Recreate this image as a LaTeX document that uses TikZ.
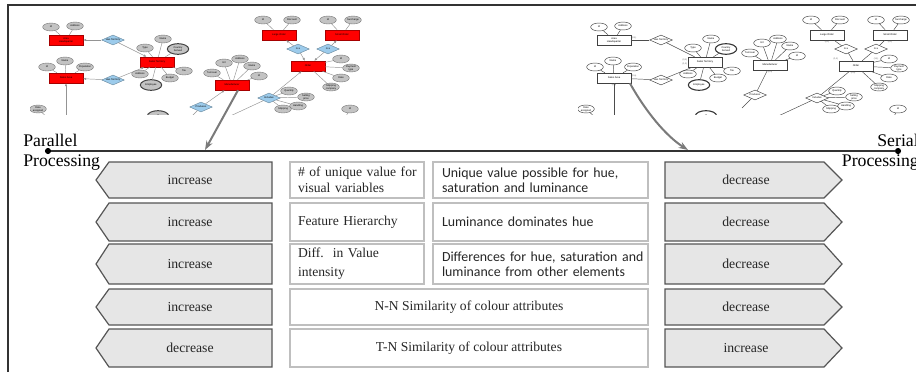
\documentclass[tikz,border=0pt]{standalone}
\usepackage{fontspec}
\setmainfont{Liberation Serif}
\newfontfamily\cellsans{Carlito}
\newfontfamily\thumbsans{Liberation Sans}
\usetikzlibrary{shapes.geometric,arrows.meta}

\definecolor{chevfill}{HTML}{E6E6E6}
\definecolor{chevline}{HTML}{555555}
\definecolor{cellline}{HTML}{BFBFBF}
\definecolor{axiscol}{HTML}{333333}
\definecolor{relblue}{HTML}{9CCBEB}
\definecolor{attgray}{HTML}{C3C3C3}
\definecolor{entred}{HTML}{FF0000}

% chevron pointing left (towards parallel processing)
\newcommand\leftchev[4]{%
  \draw[chev] (272,{#2-#3/2}) -- (109,{#2-#3/2}) -- (96,#2) -- (109,{#2+#3/2}) -- (272,{#2+#3/2}) -- cycle;
  \node[chevlabel] (#1) at (190,#2) {#4};
}
% chevron pointing right (towards serial processing)
\newcommand\rightchev[4]{%
  \draw[chev] (665,{#2-#3/2}) -- (824,{#2-#3/2}) -- (842,#2) -- (824,{#2+#3/2}) -- (665,{#2+#3/2}) -- cycle;
  \node[chevlabel] (#1) at (746,#2) {#4};
}

% small ER schema; #1,#2 shift of the manufacturer cluster, #3,#4 shift of "Produces"
\newcommand\erthumb[4]{%
  % entities
  \node[erent] (ahq) at (66,40) {Area\\Headquarter};
  \node[erent] (sa) at (66,78) {Sales Area};
  \node[erent] (st) at (157,62) {Sales Territory};
  \node[erent] (man) at ({232+#1},{85+#2}) {Manufacturer};
  \node[erent] (lo) at (279,35) {Large Order};
  \node[erent] (so) at (342,35) {Small Order};
  \node[erent] (ord) at (308,66) {Order};
  % relationships
  \node[errel] (hq) at (113,40) {Has Territory};
  \node[errel] (ha) at (113,80) {Has Territory};
  \node[errel] (pr) at ({201+#3},{107+#4}) {Produces};
  \node[errel] (isa1) at (298,49) {Is a};
  \node[errel] (isa2) at (328,49) {Is a};
  \node[errel] (inc) at (269,98) {Includes};
  % attributes
  \node[eratt] (ahqid) at (51,27) {Id};
  \node[eratt] (ahqad) at (75,26) {Address};
  \node[eratt] (said) at (47,67) {Id};
  \node[eratt] (sana) at (65,61) {Name};
  \node[eratt] (sapo) at (85,67) {Population};
  \node[eratt] (stna) at (163,39) {Name};
  \node[eratt] (stty) at (145,48) {Type};
  \node[ermatt] (stco) at (178,49) {Country\\Served};
  \node[eratt] (stta) at (184,71) {Tax};
  \node[eratt] (stbu) at (170,78) {Budget};
  \node[eratt] (stad) at (140,74) {Address};
  \node[ermatt] (stem) at (151,85) {Employee};
  \node[eratt] (mnid) at ({259+#1},{76+#2}) {Id};
  \node[eratt] (mnna) at ({252+#1},{66+#2}) {Name};
  \node[eratt] (mnad) at ({240+#1},{59+#2}) {Address};
  \node[eratt] (mnur) at ({224+#1},{63+#2}) {Url};
  \node[eratt] (mntu) at ({212+#1},{73+#2}) {Turnover};
  \node[eratt] (loid) at (263,20) {Id};
  \node[eratt] (lodi) at (292,20) {Discount};
  \node[eratt] (soid) at (328,20) {Id};
  \node[eratt] (sosu) at (353,20) {Surcharge};
  \node[eratt] (orid) at (341,59) {Id};
  \node[eratt] (orpa) at (351,68) {Payment\\type};
  \node[eratt] (orda) at (341,78) {Date};
  \node[eratt] (orsh) at (331,87) {Shipping\\company};
  \node[eratt] (inqu) at (289,91) {Quantity};
  \node[eratt] (insp) at (306,97) {Selling\\price};
  \node[eratt] (inha) at (298,106) {Handling};
  \node[eratt] (insh) at (283,109) {Shipping};
  \node[eratt] (dass) at (38,109) {Date\\assigned};
  \node[ermatt] (xid) at (158,116) {Id};
  \node[eratt] (yid) at (350,109) {Id};
  % free ends running out of the frame
  \coordinate (sadown) at (66,118);
  \coordinate (prdown) at ({188+#3},{120+#4});
  \coordinate (incdown) at (226,118);
  \coordinate (dadown) at (48,118);
  \coordinate (yidown) at (345,118);
  % relationship links
  \draw[erlink] (hq) -- (ahq);
  \draw[erlink] (hq) -- (st);
  \draw[erlink] (ha) -- (sa);
  \draw[erlink] (ha) -- (st);
  \draw[erlink] (pr) -- (man);
  \draw[erline] (pr) -- (prdown);
  \draw[erlink] (isa1) -- (lo);
  \draw[erlink] (isa1) -- (ord);
  \draw[erlink] (isa2) -- (so);
  \draw[erlink] (isa2) -- (ord);
  \draw[erlink] (inc) -- (ord);
  \draw[erline] (inc) -- (incdown);
  \draw[erlink] (sadown) -- (sa);
  % attribute links
  \foreach \a in {ahqid,ahqad} \draw[erline] (ahq) -- (\a);
  \foreach \a in {said,sana,sapo} \draw[erline] (sa) -- (\a);
  \foreach \a in {stna,stty,stco,stta,stbu,stad,stem} \draw[erline] (st) -- (\a);
  \foreach \a in {mnid,mnna,mnad,mnur,mntu} \draw[erline] (man) -- (\a);
  \draw[erline] (lo) -- (loid);
  \draw[erline] (lo) -- (lodi);
  \draw[erline] (so) -- (soid);
  \draw[erline] (so) -- (sosu);
  \foreach \a in {orid,orpa,orda,orsh} \draw[erline] (ord) -- (\a);
  \foreach \a in {inqu,insp,inha,insh} \draw[erline] (inc) -- (\a);
  \draw[erline] (dass) -- (dadown);
  \draw[erline] (yid) -- (yidown);
}

\tikzset{
  thumbfont/.style={font=\thumbsans\fontsize{1.9}{2.1}\selectfont},
  frameline/.style={draw=axiscol, line width=1.1pt},
  axisline/.style={draw=axiscol, line width=1.1pt},
  axisdot/.style={circle, fill=black, inner sep=0pt, minimum size=4.6pt},
  endlabel/.style={inner sep=0pt, font=\fontsize{13.3}{15}\selectfont},
  chev/.style={fill=chevfill, draw=chevline, line width=0.9pt},
  chevlabel/.style={inner sep=0pt, text=black!85, font=\fontsize{10.3}{12}\selectfont},
  cellA/.style={draw=cellline, line width=1.1pt, minimum width=100.5pt, text width=88.5pt,
    align=left, inner xsep=6pt, inner ysep=0pt, text=black!85, font=\fontsize{10.2}{11.6}\selectfont},
  cellB/.style={draw=cellline, line width=1.1pt, minimum width=161.25pt, text width=147.75pt,
    align=left, inner xsep=6.75pt, inner ysep=0pt, text=black!85, font=\cellsans\fontsize{10.4}{11.5}\selectfont},
  cellwide/.style={draw=cellline, line width=1.1pt, minimum width=268.5pt, align=center,
    inner sep=0pt, text=black!85, font=\fontsize{10.2}{12}\selectfont},
  bigarrow/.style={draw=black!52, line width=1.5pt, -{Stealth[length=7pt,width=5pt]}},
  card/.style={inner sep=0.3pt, text=black!70, font=\thumbsans\fontsize{1.6}{1.8}\selectfont},
}

\begin{document}
\begin{tikzpicture}[x=0.75pt,y=-0.75pt]
\useasboundingbox (0,0) rectangle (916,372);
\clip (0,0) rectangle (916,372);

% outer frame
\draw[frameline] (8,372) -- (8,5) -- (920,5);

% coloured ER schema
\begin{scope}[name prefix=L-,
  erent/.style={rectangle, fill=entred, draw=entred!65!black, line width=0.3pt, minimum width=25.5pt,
    minimum height=7.5pt, inner sep=0pt, align=center, thumbfont},
  errel/.style={diamond, aspect=2.3, fill=relblue, draw=relblue!65!black, line width=0.3pt,
    minimum width=17pt, minimum height=7.5pt, inner sep=0pt, thumbfont},
  eratt/.style={ellipse, fill=attgray, draw=black!55, line width=0.3pt, minimum width=12.5pt,
    minimum height=6pt, inner sep=0pt, align=center, thumbfont},
  ermatt/.style={eratt, draw=black!75, line width=0.75pt, minimum width=16pt, minimum height=8pt},
  erline/.style={draw=black!42, line width=0.35pt},
  erlink/.style={erline, -{Latex[length=2.2pt,width=1.8pt]}}]
  \clip (30,8) rectangle (376,114);
  \erthumb{0}{0}{0}{0}
\end{scope}

% black and white ER schema
\begin{scope}[shift={(548,0)}, name prefix=R-,
  erent/.style={rectangle, fill=white, draw=black!75, line width=0.35pt, minimum width=25.5pt,
    minimum height=7.5pt, inner sep=0pt, align=center, thumbfont},
  errel/.style={diamond, aspect=2.3, fill=white, draw=black!75, line width=0.35pt,
    minimum width=17pt, minimum height=7.5pt, inner sep=0pt, thumbfont},
  eratt/.style={ellipse, fill=white, draw=black!75, line width=0.35pt, minimum width=12.5pt,
    minimum height=6pt, inner sep=0pt, align=center, thumbfont},
  ermatt/.style={eratt, draw=black!80, line width=0.8pt, minimum width=16pt, minimum height=8pt},
  erline/.style={draw=black!70, line width=0.35pt},
  erlink/.style={erline}]
  \clip (30,8) rectangle (368,114);
  \erthumb{-10}{-20}{6}{-12}
  \node[card, above right] (c1) at (R-ahq.east) {(0,1)};
  \node[card, above right] (c2) at (R-sa.east) {(0,n)};
  \node[card, above left] (c3) at (R-st.west) {(0,1)};
  \node[card, below left] (c4) at (R-st.west) {(1,1)};
  \node[card, below] (c5) at (R-lo.south) {(0,1)};
  \node[card, below] (c6) at (R-so.south) {(0,1)};
  \node[card, above left] (c7) at (R-ord.north west) {(1,1)};
  \node[card, above right] (c8) at (R-ord.north east) {(1,1)};
  \node[card, below] (c9) at (R-sa.south) {(0,n)};
  \node[card, below] (c10) at (R-man.south) {(0,n)};
  \node[card, below left] (c11) at (R-ord.south) {(0,n)};
\end{scope}

% processing axis
\node[axisdot] (dl) at (48,151) {};
\node[axisdot] (dr) at (898,151) {};
\draw[axisline] (dl) -- (dr);
\node[endlabel, anchor=base west] (par1) at (23,146) {Parallel};
\node[endlabel, anchor=base west] (par2) at (23,166) {Processing};
\node[endlabel, anchor=base east] (ser1) at (919,146) {Serial};
\node[endlabel, anchor=base east] (ser2) at (919,166) {Processing};

% links from the schemas down to the axis
\coordinate (tipL) at (205,150);
\coordinate (tipR) at (688,150);
\draw[bigarrow] ([xshift=4.5pt]L-man.south) -- (tipL);
\draw[bigarrow] ([xshift=-1pt]R-sa.south east) .. controls (646,112) and (666,136) .. (tipR);

% left chevrons
\leftchev{l1}{180}{36}{increase}
\leftchev{l2}{222}{38}{increase}
\leftchev{l3}{264}{40}{increase}
\leftchev{l4}{307}{36}{increase}
\leftchev{l5}{348}{38}{decrease}

% right chevrons
\rightchev{r1}{180}{36}{decrease}
\rightchev{r2}{222}{38}{decrease}
\rightchev{r3}{264}{40}{decrease}
\rightchev{r4}{307}{36}{decrease}
\rightchev{r5}{348}{38}{increase}

% middle cells
\node[cellA, minimum height=27pt] (a1) at (357,180) {\mbox{\# of unique value for}\\visual variables};
\node[cellA, minimum height=28.5pt] (a2) at (357,222) {Feature Hierarchy};
\node[cellA, minimum height=30pt, font=\fontsize{10.2}{14.3}\selectfont] (a3) at (357,264) {Diff.\ \ in Value\\intensity};
\node[cellB, minimum height=27pt] (b1) at (540.5,180) {\mbox{Unique value possible for hue,}\\\mbox{saturation and luminance}};
\node[cellB, minimum height=28.5pt] (b2) at (540.5,222) {Luminance dominates hue};
\node[cellB, minimum height=30pt] (b3) at (540.5,264) {\mbox{Differences for hue, saturation and}\\\mbox{luminance from other elements}};
\node[cellwide, minimum height=27pt] (w4) at (469,307) {N-N Similarity of colour attributes};
\node[cellwide, minimum height=28.5pt] (w5) at (469,348) {T-N Similarity of colour attributes};
\end{tikzpicture}
\end{document}
